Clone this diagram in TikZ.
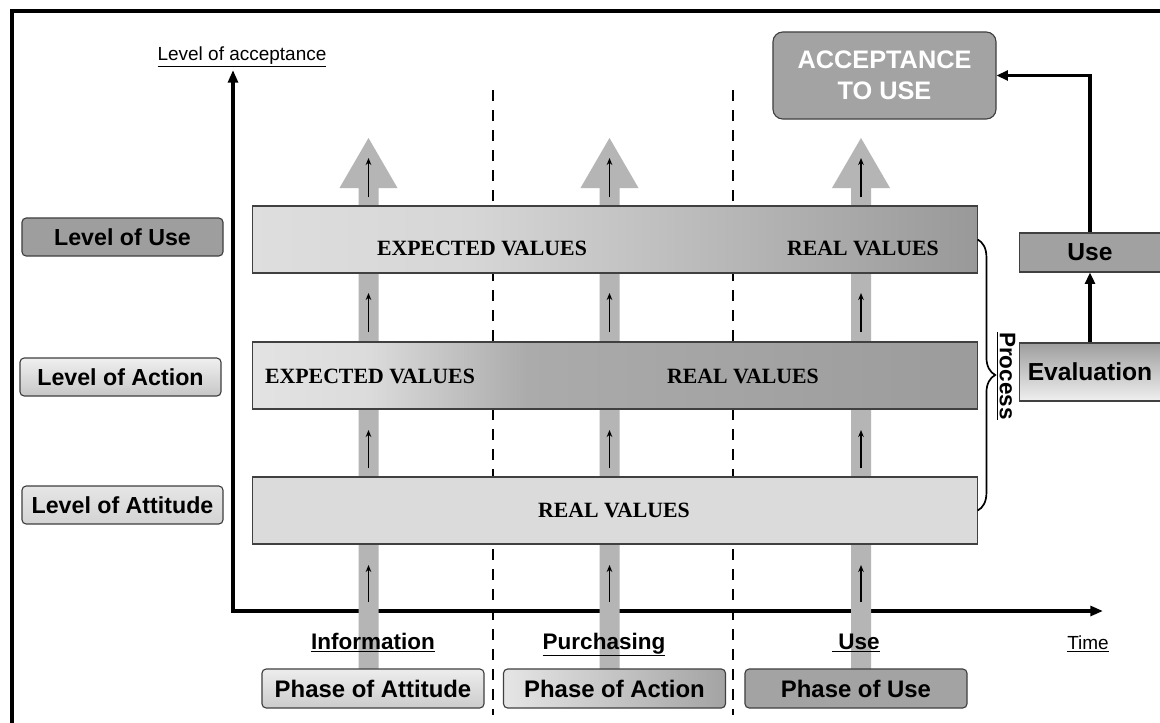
\documentclass[tikz,border=0pt]{standalone}
\usepackage{fontspec}
\setmainfont{Liberation Sans}
\newfontfamily\valfont{Liberation Serif}
\usetikzlibrary{arrows.meta,decorations.pathreplacing}

\pgfdeclarehorizontalshading{usegrad}{100bp}{color(0bp)=(black!13); color(25bp)=(black!13); color(40bp)=(black!16); color(75bp)=(black!40); color(100bp)=(black!40)}
\pgfdeclarehorizontalshading{actgrad}{100bp}{color(0bp)=(black!11); color(25bp)=(black!11); color(33bp)=(black!14); color(44bp)=(black!33); color(75bp)=(black!39); color(100bp)=(black!39)}

\tikzset{
  lvlbox/.style={draw=black!75, line width=0.8pt, rounded corners=3pt, inner sep=0pt,
    minimum width=5.025cm, minimum height=0.95cm, font=\fontsize{16.5}{19}\selectfont\bfseries},
  phasebox/.style={lvlbox, minimum width=5.55cm, minimum height=0.975cm, font=\fontsize{17}{20}\selectfont\bfseries},
  sidebox/.style={draw=black!75, line width=0.8pt, inner sep=0pt, minimum width=3.525cm,
    font=\fontsize{17.5}{20}\selectfont\bfseries},
  valrow/.style={draw=black!75, line width=0.8pt, inner sep=0pt, minimum width=18.1cm, minimum height=1.675cm},
  valtext/.style={font=\valfont\fontsize{15.5}{18}\selectfont\bfseries, inner sep=0pt},
  phlabel/.style={font=\fontsize{16}{19}\selectfont\bfseries, inner sep=0pt, anchor=base},
  plainlabel/.style={font=\fontsize{13.5}{16}\selectfont, inner sep=0pt, anchor=base}
}

\begin{document}
\begin{tikzpicture}[x=0.025cm,y=-0.025cm,
    axis/.style={line width=2.6pt, {Triangle[length=9pt,width=7pt]}-{Triangle[length=9pt,width=7pt]}},
    link/.style={line width=2.4pt, -{Triangle[length=8pt,width=7pt]}},
    sep/.style={line width=2pt, dash pattern=on 7.8pt off 6.4pt},
    bigarrow/.style={fill=black!29},
    upstep/.style={-{Stealth[length=5pt,width=4pt]}, line width=1.1pt},
    bracket/.style={decorate, decoration={brace, amplitude=12.5pt}, line width=1.2pt}]
\useasboundingbox (0,0) rectangle (1160,723);
\fill[white] (0,0) rectangle (1160,723);
\draw[line width=3.3pt] (12,723) -- (12,11) -- (1160,11);

\foreach \x in {493,733}
  \draw[sep] (\x,90) -- (\x,715);

\coordinate (origin) at (233,611);
\coordinate (ytip) at (233,70);
\coordinate (xtip) at (1103,611);
\draw[axis] (ytip) -- (origin) -- (xtip);
\node[plainlabel] (ylab) at (242,60) {\underline{Level of acceptance}};
\node[plainlabel] (tlab) at (1088,649) {\underline{Time}};

\foreach \x in {368.5,609.5,861}
  \fill[bigarrow] (\x-10,669) -- (\x-10,188) -- (\x-29,188) -- (\x,138) -- (\x+29,188) -- (\x+10,188) -- (\x+10,669) -- cycle;

\node[valrow, shade, shading=usegrad] (rowuse) at (615,239.5) {};
\node[valrow, shade, shading=actgrad] (rowact) at (615,375.5) {};
\node[valrow, fill=black!14] (rowatt) at (615,510.5) {};
\node[valtext] (useexp) at (482,248) {EXPECTED VALUES};
\node[valtext] (usereal) at (863,248) {REAL VALUES};
\node[valtext] (actexp) at (370,376) {EXPECTED VALUES};
\node[valtext] (actreal) at (743,376) {REAL VALUES};
\node[valtext] (attreal) at (614,510) {REAL VALUES};

\foreach \x in {368.5,609.5,861}
  \foreach \a/\b in {197/158,332/293,468/430,602/565}
    \draw[upstep] (\x,\a) -- (\x,\b);

\node[lvlbox, fill=black!38] (lvluse) at (122.5,237) {Level of Use};
\node[lvlbox, top color=black!6, bottom color=black!22] (lvlact) at (120.5,377) {Level of Action};
\node[lvlbox, top color=black!10, bottom color=black!17] (lvlatt) at (122.5,505) {Level of Attitude};

\node[phlabel] (info) at (373,649) {\underline{Information}};
\node[phlabel] (purch) at (604,649) {\underline{Purchasing}};
\node[phlabel] (uselab) at (856,649) {\underline{\ Use}};
\node[phasebox, top color=black!7, bottom color=black!20] (phatt) at (373,688.5) {Phase of Attitude};
\node[phasebox, left color=black!10, right color=black!36] (phact) at (614.5,688.5) {Phase of Action};
\node[phasebox, fill=black!36] (phuse) at (856,688.5) {Phase of Use};

\draw[bracket] (rowuse.east) -- (rowatt.east);
\node[font=\fontsize{16}{18}\selectfont\bfseries, rotate=-90, inner sep=0pt] (proc) at (1006,376) {\underline{Process}};

\node[sidebox, minimum height=1.45cm, top color=black!38, bottom color=black!6] (evalbox) at (1090,372) {Evaluation};
\node[sidebox, minimum height=0.975cm, fill=black!37] (usebox) at (1090,252.5) {Use};
\node[draw=black!75, line width=0.8pt, rounded corners=7pt, fill=black!36, text=white, align=center,
  minimum width=5.575cm, minimum height=2.175cm, inner sep=0pt,
  font=\fontsize{18}{22}\selectfont\bfseries] (accept) at (884.5,75.5) {ACCEPTANCE\\TO USE};

\draw[link] (evalbox) -- (usebox);
\draw[link] (usebox) |- (accept);
\end{tikzpicture}
\end{document}
